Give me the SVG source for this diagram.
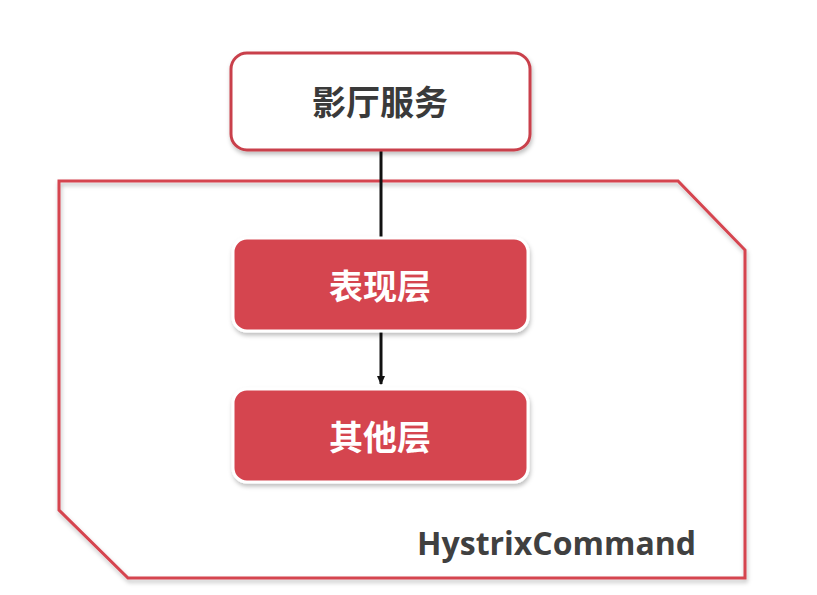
<svg xmlns="http://www.w3.org/2000/svg" width="817" height="595" viewBox="0 0 817 595">
<defs>
<style>
.cn{font-family:"Noto Sans CJK SC",sans-serif;font-weight:bold;font-size:34px;text-anchor:middle}
.red{fill:#d5444f;stroke:#fff;stroke-width:3}
</style>
<filter id="sh" x="-10%" y="-10%" width="120%" height="130%"><feDropShadow dx="1" dy="3" stdDeviation="2" flood-color="#000" flood-opacity="0.25"/></filter>
<marker id="ah" markerWidth="10" markerHeight="10" refX="8" refY="5" orient="auto" markerUnits="userSpaceOnUse"><path d="M0,1 L9,5 L0,9 Z" fill="#111"/></marker>
</defs>
<rect width="817" height="595" fill="#fff"/>
<g id="container">
<polygon points="59,181 678,181 745,250 745,578 128,578 59,510" fill="none" stroke="#d5444f" stroke-width="3" filter="url(#sh)"/>
<text x="696" y="555" text-anchor="end" font-family="Open Sans, sans-serif" font-weight="bold" font-size="32" fill="#404040">HystrixCommand</text>
</g>
<g id="connectors" stroke="#111" stroke-width="3">
<line x1="381" y1="150" x2="381" y2="238"/>
<line x1="381" y1="331" x2="381" y2="384" marker-end="url(#ah)"/>
</g>
<g id="cinema">
<rect x="231" y="53" width="299" height="97" rx="16" fill="#fff" stroke="#c9414c" stroke-width="3" filter="url(#sh)"/>
<text class="cn" x="380" y="115" fill="#3a3a3a">影厅服务</text>
</g>
<g id="presentation">
<rect class="red" x="233" y="238" width="295" height="93" rx="14" filter="url(#sh)"/>
<text class="cn" x="380" y="299" fill="#fff">表现层</text>
</g>
<g id="other">
<rect class="red" x="233" y="389" width="295" height="93" rx="14" filter="url(#sh)"/>
<text class="cn" x="380" y="450" fill="#fff">其他层</text>
</g>
</svg>
